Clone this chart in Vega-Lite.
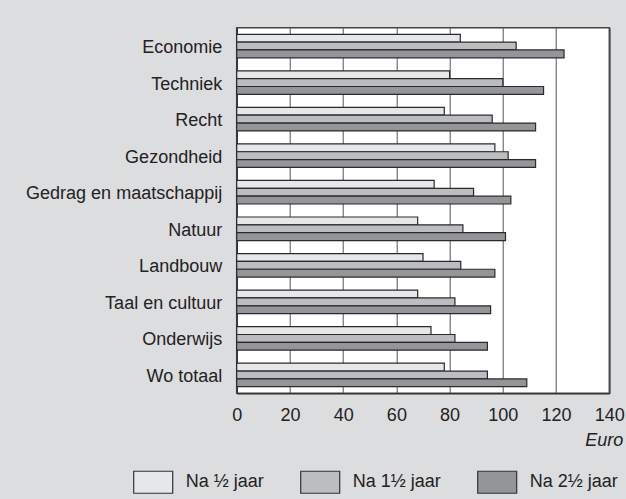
{
  "$schema": "https://vega.github.io/schema/vega-lite/v6.json",
  "autosize": {"type": "none"},
  "padding": {"left": 236.7, "top": 27.7, "right": 16.7, "bottom": 105.7},
  "width": 372.6,
  "height": 365.6,
  "background": "#dcdddf",
  "config": {
    "font": "Liberation Sans",
    "axis": {"labelFont": "Liberation Sans", "titleFont": "Liberation Sans"},
    "legend": {"labelFont": "Liberation Sans"},
    "view": {"fill": "white", "stroke": "#444", "strokeWidth": 1.5}
  },
  "data": {
    "values": [
      {"cat": "Economie", "period": "Na ½ jaar", "value": 84},
      {"cat": "Economie", "period": "Na 1½ jaar", "value": 105},
      {"cat": "Economie", "period": "Na 2½ jaar", "value": 123},
      {"cat": "Techniek", "period": "Na ½ jaar", "value": 80},
      {"cat": "Techniek", "period": "Na 1½ jaar", "value": 100},
      {"cat": "Techniek", "period": "Na 2½ jaar", "value": 115.3},
      {"cat": "Recht", "period": "Na ½ jaar", "value": 78},
      {"cat": "Recht", "period": "Na 1½ jaar", "value": 96},
      {"cat": "Recht", "period": "Na 2½ jaar", "value": 112.3},
      {"cat": "Gezondheid", "period": "Na ½ jaar", "value": 97},
      {"cat": "Gezondheid", "period": "Na 1½ jaar", "value": 102},
      {"cat": "Gezondheid", "period": "Na 2½ jaar", "value": 112.3},
      {"cat": "Gedrag en maatschappij", "period": "Na ½ jaar", "value": 74.2},
      {"cat": "Gedrag en maatschappij", "period": "Na 1½ jaar", "value": 89},
      {"cat": "Gedrag en maatschappij", "period": "Na 2½ jaar", "value": 103},
      {"cat": "Natuur", "period": "Na ½ jaar", "value": 68},
      {"cat": "Natuur", "period": "Na 1½ jaar", "value": 85},
      {"cat": "Natuur", "period": "Na 2½ jaar", "value": 101},
      {"cat": "Landbouw", "period": "Na ½ jaar", "value": 70},
      {"cat": "Landbouw", "period": "Na 1½ jaar", "value": 84.2},
      {"cat": "Landbouw", "period": "Na 2½ jaar", "value": 97},
      {"cat": "Taal en cultuur", "period": "Na ½ jaar", "value": 68},
      {"cat": "Taal en cultuur", "period": "Na 1½ jaar", "value": 82},
      {"cat": "Taal en cultuur", "period": "Na 2½ jaar", "value": 95.4},
      {"cat": "Onderwijs", "period": "Na ½ jaar", "value": 73},
      {"cat": "Onderwijs", "period": "Na 1½ jaar", "value": 82},
      {"cat": "Onderwijs", "period": "Na 2½ jaar", "value": 94.2},
      {"cat": "Wo totaal", "period": "Na ½ jaar", "value": 78},
      {"cat": "Wo totaal", "period": "Na 1½ jaar", "value": 94.2},
      {"cat": "Wo totaal", "period": "Na 2½ jaar", "value": 109}
    ]
  },
  "mark": {"type": "bar", "stroke": "#2b2b2b", "strokeWidth": 1.2, "opacity": 1},
  "encoding": {
    "y": {
      "field": "cat",
      "type": "nominal",
      "sort": null,
      "scale": {"paddingInner": 0.357, "paddingOuter": 0.18},
      "axis": {
        "title": null,
        "ticks": false,
        "labelPadding": 15,
        "labelFontSize": 18,
        "labelLimit": 300,
        "labelColor": "#222",
        "labelBaseline": "middle",
        "labelOffset": 2,
        "domainColor": "#333",
        "domainWidth": 1.5,
        "grid": false
      }
    },
    "yOffset": {
      "field": "period",
      "type": "nominal",
      "sort": ["Na ½ jaar", "Na 1½ jaar", "Na 2½ jaar"],
      "scale": {"paddingInner": 0, "paddingOuter": 0}
    },
    "x": {
      "field": "value",
      "type": "quantitative",
      "scale": {"domain": [0, 140], "nice": false},
      "axis": {
        "values": [0, 20, 40, 60, 80, 100, 120, 140],
        "title": "Euro",
        "titleFontStyle": "italic",
        "titleFontWeight": "normal",
        "titleFontSize": 18,
        "titleColor": "#222",
        "titleAnchor": "end",
        "titleAlign": "right",
        "titleBaseline": "alphabetic",
        "titleX": 386,
        "titleY": 52,
        "ticks": false,
        "labelPadding": 13,
        "labelFontSize": 18,
        "labelColor": "#222",
        "labelFlush": false,
        "domainColor": "#333",
        "domainWidth": 1.5,
        "grid": true,
        "gridColor": "#555",
        "gridWidth": 1,
        "gridOpacity": 1
      }
    },
    "color": {
      "field": "period",
      "type": "nominal",
      "sort": ["Na ½ jaar", "Na 1½ jaar", "Na 2½ jaar"],
      "scale": {"domain": ["Na ½ jaar", "Na 1½ jaar", "Na 2½ jaar"], "range": ["#e5e7e8", "#bcbdc0", "#949598"]},
      "legend": {
        "title": null,
        "orient": "none",
        "direction": "horizontal",
        "columns": 3,
        "legendX": -104,
        "legendY": 434,
        "symbolType": "M-1,-0.564H1V0.564H-1Z",
        "symbolSize": 1521,
        "symbolStrokeColor": "#333",
        "symbolStrokeWidth": 1.2,
        "symbolOpacity": 1,
        "labelFontSize": 18,
        "labelColor": "#222",
        "labelOffset": 12,
        "columnPadding": 33
      }
    }
  }
}
